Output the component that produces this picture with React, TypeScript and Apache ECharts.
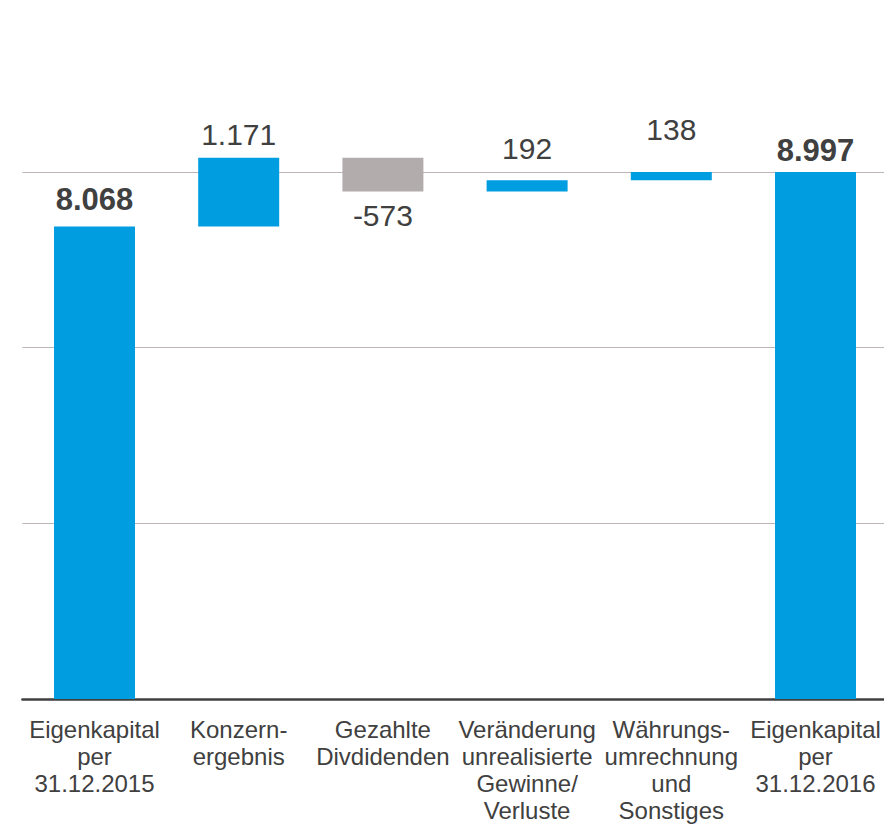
import React, { useEffect, useRef } from "react";
import * as echarts from "echarts";

const categories = [
  "Eigenkapital\nper\n31.12.2015",
  "Konzern-\nergebnis",
  "Gezahlte\nDivdidenden",
  "Veränderung\nunrealisierte\nGewinne/\nVerluste",
  "Währungs-\numrechnung\nund\nSonstiges",
  "Eigenkapital\nper\n31.12.2016",
];
const startValue = 8068;
const changes = [1171, -573, 192, 138];
const endValue = 8997;
const labelDistances = [11, 8.5, 9.5, 16.5, 27.5, 6];

const BLUE = "#009EE0";
const GRAY = "#B2ADAC";
const TEXT = "#404040";

function fmt(v: number): string {
  const s = Math.abs(v).toString();
  const parts: string[] = [];
  for (let i = s.length; i > 0; i -= 3) parts.unshift(s.slice(Math.max(0, i - 3), i));
  return (v < 0 ? "-" : "") + parts.join(".");
}

export default function App() {
  const ref = useRef<HTMLDivElement>(null);
  useEffect(() => {
    if (!ref.current) return;
    const chart = echarts.init(ref.current, undefined, { renderer: "svg" });

    const signed = [startValue, ...changes, endValue];
    const base: number[] = [];
    const heights: number[] = [];
    let running = 0;
    signed.forEach((v, i) => {
      if (i === 0 || i === signed.length - 1) {
        base.push(0);
        heights.push(v);
        running = v;
      } else if (v >= 0) {
        base.push(running);
        heights.push(v);
        running += v;
      } else {
        running += v;
        base.push(running);
        heights.push(-v);
      }
    });

    const isTotal = (i: number) => i === 0 || i === signed.length - 1;
    const fontFamily = "'Liberation Sans', Arial, Helvetica, sans-serif";

    const data = heights.map((h, i) => ({
      value: h,
      itemStyle: { color: signed[i] < 0 ? GRAY : BLUE },
      label: {
        show: true,
        position: signed[i] < 0 ? "bottom" : "top",
        distance: labelDistances[i],
        formatter: fmt(signed[i]),
        fontSize: isTotal(i) ? 31 : 30,
        fontWeight: isTotal(i) ? "bold" : "normal",
        color: TEXT,
        fontFamily,
      },
    }));

    chart.setOption({
      animation: false,
      grid: { left: 22.4, right: 4.4, top: 84, bottom: 124, containLabel: false },
      xAxis: {
        type: "category",
        data: categories,
        axisLine: { show: true, lineStyle: { color: TEXT, width: 2.5 } },
        axisTick: { show: false },
        axisLabel: {
          interval: 0,
          fontSize: 24,
          lineHeight: 27,
          color: TEXT,
          margin: 17,
          fontFamily,
          align: "center",
        },
      },
      yAxis: {
        type: "value",
        min: 0,
        max: 10500,
        interval: 3000,
        axisLabel: { show: false },
        axisLine: { show: false },
        axisTick: { show: false },
        splitLine: {
          show: true,
          showMaxLine: false,
          lineStyle: { color: "#BDB5B5", width: 1 },
        },
      },
      series: [
        {
          type: "bar",
          stack: "wf",
          silent: true,
          barWidth: 81,
          itemStyle: { color: "transparent" },
          data: base,
        },
        {
          type: "bar",
          stack: "wf",
          barWidth: 81,
          data,
        },
      ],
    });
    return () => chart.dispose();
  }, []);

  return (
    <div style={{ position: "absolute", left: 0, top: 0, width: 884, height: 824, overflow: "hidden" }}>
      <div ref={ref} style={{ width: 892, height: 824 }} />
    </div>
  );
}
